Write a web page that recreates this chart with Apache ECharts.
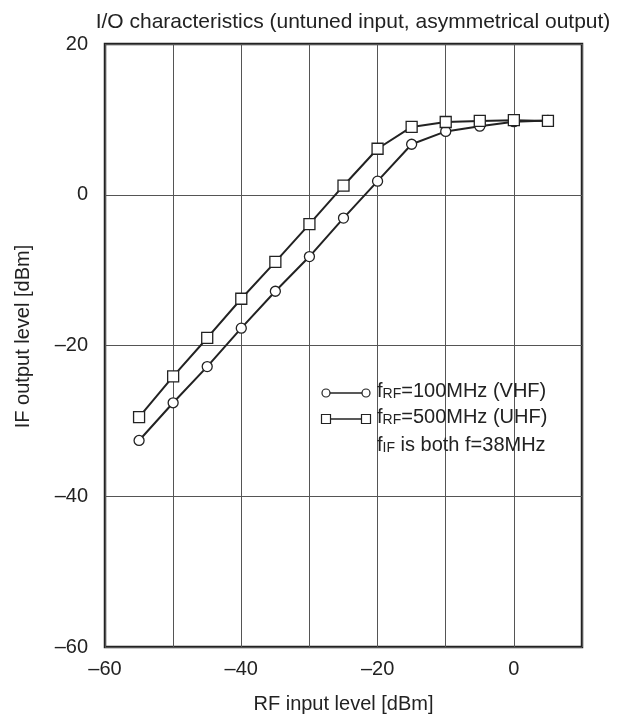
<!DOCTYPE html>
<html>
<head>
<meta charset="utf-8">
<script src="https://cdn.jsdelivr.net/npm/echarts@6/dist/echarts.min.js"></script>
<style>
html,body{margin:0;padding:0;background:#fff;}
#chart{width:618px;height:719px;}
</style>
</head>
<body>
<div id="chart"></div>
<script>
// RF input level [dBm]
const rfInput = [-55, -50, -45, -40, -35, -30, -25, -20, -15, -10, -5, 0, 5];
// IF output level [dBm], fRF = 100 MHz (VHF)
const vhfOutput = [-32.6, -27.6, -22.8, -17.7, -12.8, -8.2, -3.1, 1.8, 6.7, 8.4, 9.1, 9.7, 9.85];
// IF output level [dBm], fRF = 500 MHz (UHF)
const uhfOutput = [-29.5, -24.1, -19.0, -13.8, -8.9, -3.9, 1.2, 6.1, 9.0, 9.65, 9.8, 9.9, 9.8];
const xLabelTicks = [-60, -40, -20, 0];
const yLabelTicks = [20, 0, -20, -40, -60];

const FONT = '"Liberation Sans", Arial, sans-serif';
const INK = '#222';

function pairs(xs, ys) { return xs.map((x, i) => [x, ys[i]]); }
function dash(v) { return String(v).replace('-', '\u2013'); }

const richLegend = {
  a: {fontFamily: FONT, fontSize: 20, fill: INK},
  b: {fontFamily: FONT, fontSize: 14, fill: INK, verticalAlign: 'bottom', padding: [5, 0, 0, 0]}
};

const chart = echarts.init(document.getElementById('chart'), null, {renderer: 'canvas'});
chart.setOption({
  backgroundColor: '#fff',
  animation: false,
  textStyle: {fontFamily: FONT, color: INK},
  title: {
    text: 'I/O characteristics (untuned input, asymmetrical output)',
    left: 348, top: 7, textAlign: 'center',
    textStyle: {fontFamily: FONT, fontSize: 21, fontWeight: 'normal', color: INK}
  },
  grid: {
    left: 105, right: 36, top: 44, bottom: 72,
    show: true, borderColor: INK, borderWidth: 2.5, backgroundColor: 'transparent'
  },
  xAxis: {
    type: 'value', min: -60, max: 10, interval: 10,
    name: 'RF input level [dBm]', nameLocation: 'middle', nameGap: 47,
    nameTextStyle: {fontFamily: FONT, fontSize: 20, color: INK},
    axisLine: {show: false}, axisTick: {show: false},
    splitLine: {show: true, lineStyle: {color: '#555', width: 1}},
    axisLabel: {
      fontFamily: FONT, fontSize: 20, color: INK, margin: 12,
      formatter: v => xLabelTicks.includes(v) ? dash(v) : ''
    }
  },
  yAxis: {
    type: 'value', min: -60, max: 20, interval: 20,
    name: 'IF output level [dBm]', nameLocation: 'middle', nameGap: 72,
    nameTextStyle: {fontFamily: FONT, fontSize: 20, color: INK, padding: [0, 0, 0, 18]},
    axisLine: {show: false}, axisTick: {show: false},
    splitLine: {show: true, lineStyle: {color: '#555', width: 1}},
    axisLabel: {
      fontFamily: FONT, fontSize: 20, color: INK, margin: 17,
      formatter: v => yLabelTicks.includes(v) ? dash(v) : ''
    }
  },
  series: [
    {
      name: 'fRF=100MHz (VHF)', type: 'line', data: pairs(rfInput, vhfOutput),
      symbol: 'circle', symbolSize: 10,
      lineStyle: {color: INK, width: 2},
      itemStyle: {color: '#fff', borderColor: INK, borderWidth: 1.3},
      z: 3
    },
    {
      name: 'fRF=500MHz (UHF)', type: 'line', data: pairs(rfInput, uhfOutput),
      symbol: 'rect', symbolSize: 11,
      lineStyle: {color: INK, width: 2},
      itemStyle: {color: '#fff', borderColor: INK, borderWidth: 1.3},
      z: 4
    }
  ],
  graphic: [
    {type: 'line', shape: {x1: 326, y1: 393, x2: 366, y2: 393}, style: {stroke: INK, lineWidth: 1.3}, z: 10},
    {type: 'circle', shape: {cx: 326, cy: 393, r: 4}, style: {fill: '#fff', stroke: INK, lineWidth: 1.2}, z: 11},
    {type: 'circle', shape: {cx: 366, cy: 393, r: 4}, style: {fill: '#fff', stroke: INK, lineWidth: 1.2}, z: 11},
    {type: 'line', shape: {x1: 326, y1: 419, x2: 366, y2: 419}, style: {stroke: INK, lineWidth: 1.3}, z: 10},
    {type: 'rect', shape: {x: 321.5, y: 414.5, width: 9, height: 9}, style: {fill: '#fff', stroke: INK, lineWidth: 1.2}, z: 11},
    {type: 'rect', shape: {x: 361.5, y: 414.5, width: 9, height: 9}, style: {fill: '#fff', stroke: INK, lineWidth: 1.2}, z: 11},
    {type: 'text', left: 377, top: 381, z: 12, style: {text: '{a|f}{b|RF}{a|=100MHz (VHF)}', rich: richLegend}},
    {type: 'text', left: 377, top: 407, z: 12, style: {text: '{a|f}{b|RF}{a|=500MHz (UHF)}', rich: richLegend}},
    {type: 'text', left: 377, top: 435, z: 12, style: {text: '{a|f}{b|IF}{a| is both f=38MHz}', rich: richLegend}}
  ]
});
</script>
</body>
</html>
